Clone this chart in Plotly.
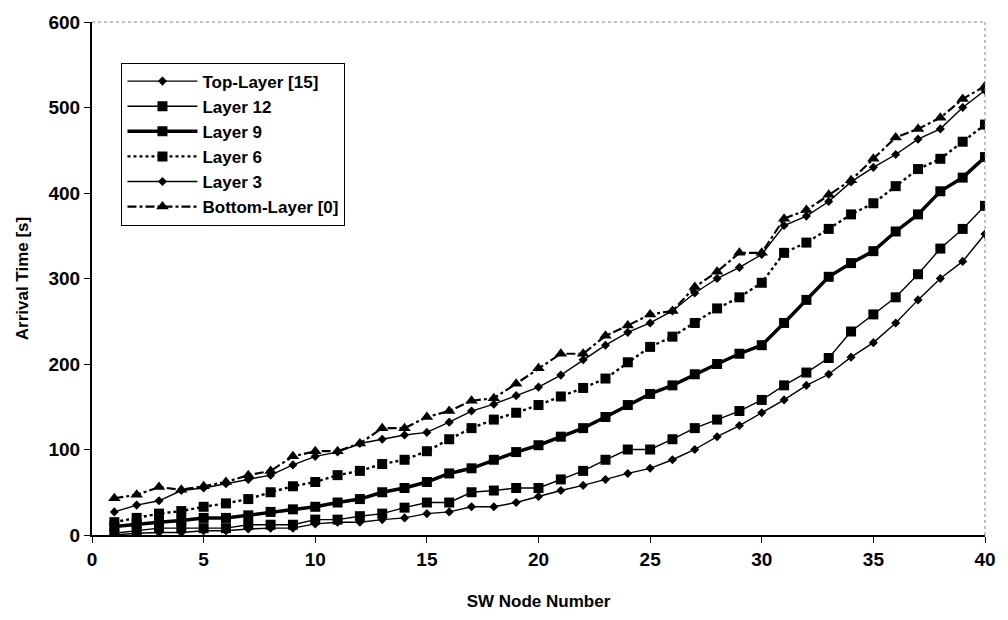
import plotly.graph_objects as go

nodes = list(range(1, 41))

top_layer_15 = [27, 35, 40, 52, 55, 60, 65, 70, 82, 92, 97, 107, 112, 117, 120, 132, 145, 153, 163, 173,
                187, 205, 222, 237, 248, 262, 283, 300, 313, 328, 362, 373, 390, 413, 430, 445, 463, 475, 500, 520]
layer_12 = [2, 5, 8, 8, 8, 8, 12, 12, 12, 18, 18, 22, 25, 32, 38, 38, 50, 52, 55, 55,
            65, 75, 88, 100, 100, 112, 125, 135, 145, 158, 175, 190, 207, 238, 258, 278, 305, 335, 358, 385]
layer_9 = [10, 13, 15, 17, 20, 20, 23, 27, 30, 33, 38, 42, 50, 55, 62, 72, 78, 88, 97, 105,
           115, 125, 138, 152, 165, 175, 188, 200, 212, 222, 248, 275, 302, 318, 332, 355, 375, 402, 418, 442]
layer_6 = [15, 20, 25, 28, 33, 37, 42, 50, 57, 62, 70, 75, 83, 88, 98, 112, 125, 135, 143, 152,
           162, 172, 183, 202, 220, 232, 248, 265, 278, 295, 330, 342, 358, 375, 388, 408, 428, 440, 460, 480]
layer_3 = [0, 2, 3, 3, 5, 5, 7, 8, 8, 13, 15, 15, 18, 20, 25, 27, 33, 33, 38, 45,
           52, 58, 65, 72, 78, 88, 100, 115, 128, 143, 158, 175, 188, 208, 225, 248, 275, 300, 320, 352]
bottom_layer_0 = [43, 47, 56, 53, 57, 62, 70, 75, 92, 98, 98, 107, 125, 125, 138, 145, 157, 160, 177, 195,
                  212, 212, 233, 245, 258, 262, 290, 308, 330, 330, 370, 380, 398, 415, 440, 465, 475, 488, 510, 525]

x_ticks = [0, 5, 10, 15, 20, 25, 30, 35, 40]
y_ticks = [0, 100, 200, 300, 400, 500, 600]

FONT = "Liberation Sans"

# name, values, line width, dash, marker symbol, marker size
series = [
    ("Top-Layer [15]", top_layer_15, 1.4, "solid", "diamond", 7),
    ("Layer 12", layer_12, 1.4, "solid", "square", 10),
    ("Layer 9", layer_9, 3.5, "solid", "square", 10),
    ("Layer 6", layer_6, 2.4, "dot", "square", 10),
    ("Layer 3", layer_3, 1.4, "solid", "diamond", 7),
    ("Bottom-Layer [0]", bottom_layer_0, 2.2, "dashdot", "triangle-up", 11),
]

fig = go.Figure()
for name, vals, w, dash, sym, size in series:
    fig.add_trace(go.Scatter(
        x=nodes, y=vals, name=name, mode="lines+markers",
        line=dict(color="black", width=w, dash=dash),
        marker=dict(symbol=sym, size=size, color="black"),
    ))

fig.update_layout(
    width=1008, height=620,
    margin=dict(l=92, r=17, t=16, b=84),
    paper_bgcolor="white", plot_bgcolor="white",
    font=dict(family=FONT, size=16, color="black"),
    showlegend=True,
    legend=dict(
        x=0.033, y=0.921, xanchor="left", yanchor="top",
        bgcolor="white", bordercolor="black", borderwidth=1,
        font=dict(family=FONT, size=17, color="black", weight="bold"),
        itemwidth=70,
    ),
    xaxis=dict(
        range=[0, 40], tickvals=x_ticks, ticktext=[str(v) for v in x_ticks],
        showgrid=False, zeroline=False,
        showline=True, linecolor="black", linewidth=2,
        ticks="outside", ticklen=6, tickcolor="black",
        tickfont=dict(family=FONT, size=19, weight="bold"),
        title=dict(text="SW Node Number", font=dict(family=FONT, size=17, weight="bold"), standoff=26),
    ),
    yaxis=dict(
        range=[0, 600], tickvals=y_ticks, ticktext=[str(v) for v in y_ticks],
        showgrid=False, zeroline=False,
        showline=True, linecolor="black", linewidth=2,
        ticks="outside", ticklen=6, tickcolor="black",
        tickfont=dict(family=FONT, size=19, weight="bold"),
        title=dict(text="Arrival Time [s]", font=dict(family=FONT, size=17, weight="bold"), standoff=16),
    ),
)

# dotted frame on the top and right edges of the plot area
fig.add_shape(type="line", xref="paper", yref="paper", x0=0, x1=1, y0=1, y1=1,
              line=dict(color="gray", width=1, dash="dot"))
fig.add_shape(type="line", xref="paper", yref="paper", x0=1, x1=1, y0=0, y1=1,
              line=dict(color="gray", width=1, dash="dot"))

fig.write_html("out.html")
